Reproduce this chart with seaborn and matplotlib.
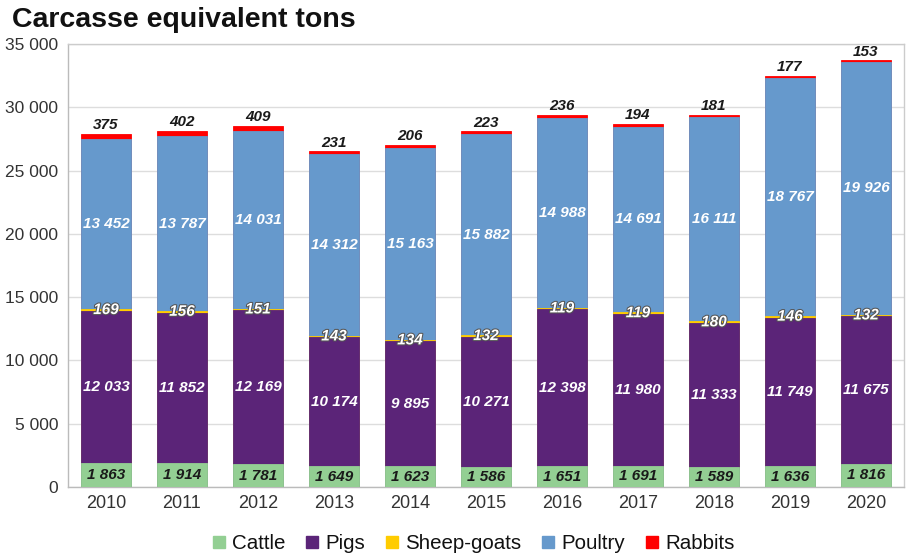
import numpy as np
import pandas as pd
import matplotlib.pyplot as plt
import matplotlib.patheffects as pe
from matplotlib.lines import Line2D
from matplotlib.ticker import FuncFormatter, FixedLocator
import seaborn as sns

plt.switch_backend("Agg")

# --- data (carcass equivalent tons) ---
years = ["2010", "2011", "2012", "2013", "2014", "2015", "2016", "2017", "2018", "2019", "2020"]
cattle = [1863, 1914, 1781, 1649, 1623, 1586, 1651, 1691, 1589, 1636, 1816]
pigs = [12033, 11852, 12169, 10174, 9895, 10271, 12398, 11980, 11333, 11749, 11675]
sheep_goats = [169, 156, 151, 143, 134, 132, 119, 119, 180, 146, 132]
poultry = [13452, 13787, 14031, 14312, 15163, 15882, 14988, 14691, 16111, 18767, 19926]
rabbits = [375, 402, 409, 231, 206, 223, 236, 194, 181, 177, 153]

series = ["Cattle", "Pigs", "Sheep-goats", "Poultry", "Rabbits"]
colors = {"Cattle": "#93cf93", "Pigs": "#5b2478", "Sheep-goats": "#ffcc00",
          "Poultry": "#6699cc", "Rabbits": "#ff0000"}

df = pd.DataFrame({"year": years, "Cattle": cattle, "Pigs": pigs,
                   "Sheep-goats": sheep_goats, "Poultry": poultry, "Rabbits": rabbits})
cum = df[series].cumsum(axis=1)
bottoms = cum - df[series]
for s in series:
    df["top_" + s] = cum[s]

sns.set_style("white")
plt.rcParams["font.family"] = ["Liberation Sans", "DejaVu Sans"]

fig = plt.figure(figsize=(9.1, 5.6), dpi=100)
ax = fig.add_axes([0.0747, 0.1304, 0.9187, 0.791])

# stacked bars: draw cumulative heights from the top layer down
for s in reversed(series):
    sns.barplot(data=df, x="year", y="top_" + s, color=colors[s], width=0.67,
                saturation=1, edgecolor=colors[s], linewidth=0.6, ax=ax, zorder=3)

def fmt(v):
    return f"{int(v):,}".replace(",", " ")

lab = dict(ha="center", fontsize=11, fontweight="bold", fontstyle="italic", zorder=5)
for i in range(len(years)):
    ax.text(i, bottoms.loc[i, "Cattle"] + cattle[i] / 2, fmt(cattle[i]), va="center",
            color="#1a1a1a", **lab)
    ax.text(i, bottoms.loc[i, "Pigs"] + pigs[i] / 2, fmt(pigs[i]), va="center",
            color="white", **lab)
    ax.text(i, bottoms.loc[i, "Sheep-goats"] + sheep_goats[i] / 2, fmt(sheep_goats[i]),
            va="center", color="white",
            path_effects=[pe.withStroke(linewidth=1.5, foreground="#555555")], **lab)
    ax.text(i, bottoms.loc[i, "Poultry"] + poultry[i] / 2, fmt(poultry[i]), va="center",
            color="white", **lab)
    ax.text(i, cum.loc[i, "Rabbits"] + 150, fmt(rabbits[i]), va="bottom",
            color="#1a1a1a", **lab)

ax.set_ylim(0, 35000)
ax.set_xlim(-0.5, len(years) - 0.5)
ax.set_yticks(np.arange(0, 35001, 5000))
ax.yaxis.set_major_formatter(FuncFormatter(lambda v, p: fmt(v)))
ax.grid(axis="y", color="#dddddd", linewidth=1, zorder=0)
ax.set_axisbelow(True)
ax.set_xlabel("")
ax.set_ylabel("")

ax.xaxis.set_minor_locator(FixedLocator(np.arange(-0.5, len(years), 1)))
ax.tick_params(axis="x", which="major", length=0, labelsize=13, colors="#333333", pad=6)
ax.tick_params(axis="x", which="minor", length=5, color="#bbbbbb", width=1)
ax.tick_params(axis="y", length=5, color="#bbbbbb", labelsize=12.5, colors="#333333", pad=2)
for sp in ax.spines.values():
    sp.set_color("#cccccc")
    sp.set_linewidth(1)
ax.spines["left"].set_color("#bbbbbb")
ax.spines["bottom"].set_color("#bbbbbb")

handles = [Line2D([0], [0], marker="s", linestyle="", markersize=8,
                  markerfacecolor=colors[s], markeredgecolor=colors[s], label=s) for s in series]
fig.legend(handles=handles, loc="center", bbox_to_anchor=(0.52, 0.03), ncol=5, frameon=False,
           fontsize=14.8, handlelength=0.7, handletextpad=0.3, columnspacing=0.95,
           labelcolor="#111111")

fig.text(0.013, 0.965, "Carcasse equivalent tons", fontsize=20.5, fontweight="bold",
         color="#111111", va="center", ha="left")

fig.savefig("out.png", dpi=100)
